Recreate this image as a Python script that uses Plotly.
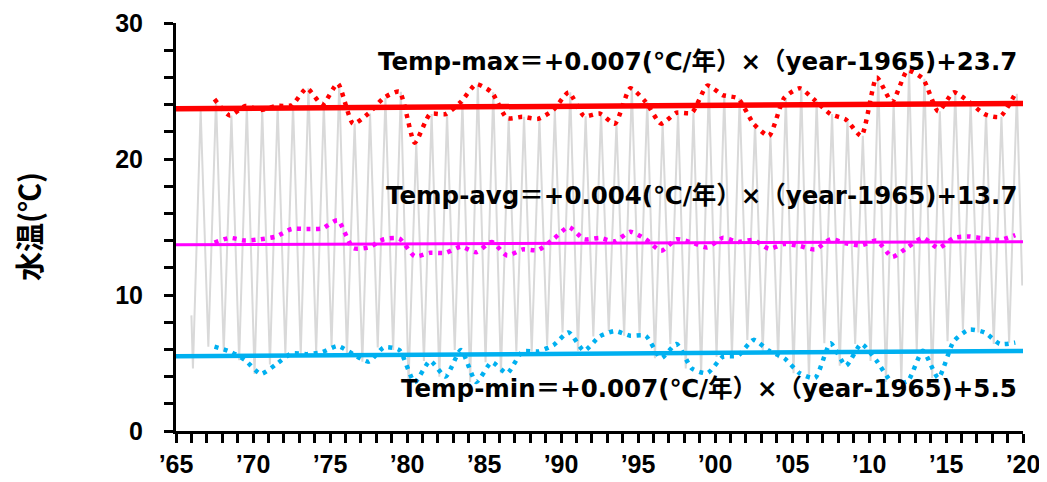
import plotly.graph_objects as go

# ---------------- data ----------------
years = list(range(1966, 2020))

# annual maximum water temperature (℃)
annual_max = [
    23.6,                                                   # 1966
    24.4, 23.2, 23.9, 23.6, 23.9, 23.95, 25.2, 24.0, 25.55, 22.6,   # 1967-1976
    23.35, 24.5, 24.95, 21.2, 23.3, 23.3, 24.2, 25.5, 24.9, 23.0,   # 1977-1986
    23.1, 22.95, 23.6, 24.9, 23.15, 23.35, 22.6, 25.2, 24.2, 22.6,  # 1987-1996
    23.4, 23.4, 25.4, 24.7, 24.45, 22.6, 21.7, 24.5, 25.2, 24.3,    # 1997-2006
    23.3, 22.9, 21.7, 26.0, 24.2, 26.5, 25.9, 23.5, 24.9, 24.2,     # 2007-2016
    23.3, 23.1, 24.8,                                              # 2017-2019
]
# annual mean water temperature (℃)
annual_avg = [
    None,
    13.85, 14.2, 14.0, 14.1, 14.3, 14.85, 14.85, 14.9, 15.5, 13.45,
    13.5, 14.1, 14.15, 12.85, 13.1, 13.1, 13.55, 13.15, 13.9, 12.9,
    13.35, 13.3, 14.1, 15.0, 14.1, 14.2, 13.95, 14.65, 14.1, 13.25,
    14.1, 13.85, 13.5, 14.2, 13.9, 14.05, 13.4, 13.75, 13.6, 13.35,
    14.1, 13.8, 13.65, 14.0, 12.8, 13.5, 14.2, 13.45, 14.2, 14.3,
    14.15, 14.05, 14.4,
]
# annual minimum water temperature (℃)
annual_min = [
    4.6,
    6.2, 5.85, 5.2, 4.2, 4.9, 5.7, 5.65, 5.8, 6.25, 5.65,
    5.1, 6.15, 5.95, 3.6, 5.15, 4.0, 5.95, 3.6, 5.05, 4.25,
    5.85, 5.85, 6.3, 7.25, 5.9, 6.95, 7.35, 7.0, 7.0, 5.35,
    6.4, 4.6, 4.25, 5.45, 5.55, 6.7, 5.9, 5.35, 4.25, 3.9,
    6.45, 4.8, 6.4, 5.15, 3.6, 3.65, 5.9, 3.9, 6.6, 7.45,
    7.25, 6.4, 6.5,
]
first_month_value = 8.5    # Jan 1966 (monthly series)
last_month_value = 10.7    # Dec 2019 (monthly series)
dotted_start_year = 1967

# regression lines: Temp = slope * (year - 1965) + intercept
base_year = 1965
trend_names = ["Temp-max", "Temp-avg", "Temp-min"]
trend_slopes = [0.007, 0.004, 0.007]
trend_intercepts = [23.7, 13.7, 5.5]

x_tick_vals = list(range(1965, 2021, 5))
x_tick_text = ["’65", "’70", "’75", "’80", "’85", "’90", "’95", "’00", "’05", "’10", "’15", "’20"]
y_tick_vals = [0, 10, 20, 30]

# ---------------- figure ----------------
MID = 0.5      # annual values plotted mid-year
WINTER = 0.1   # month of the annual minimum in the monthly line
SUMMER = 0.6   # month of the annual maximum in the monthly line

gx, gy = [years[0]], [first_month_value]
for yr, lo, hi in zip(years, annual_min, annual_max):
    gx += [yr + WINTER, yr + SUMMER]
    gy += [lo, hi]
gx.append(years[-1] + 0.95)
gy.append(last_month_value)

fig = go.Figure()
fig.add_trace(go.Scatter(x=gx, y=gy, mode="lines",
                         line=dict(color="#D9D9D9", width=2), hoverinfo="skip"))

colors = ["#FF0000", "#FF00FF", "#00B0F0"]
series = [annual_max, annual_avg, annual_min]
trend_widths = [5.5, 3, 4.5]

for vals, col in zip(series, colors):
    xs = [y + MID for y, v in zip(years, vals) if y >= dotted_start_year and v is not None]
    ys = [v for y, v in zip(years, vals) if y >= dotted_start_year and v is not None]
    fig.add_trace(go.Scatter(x=xs, y=ys, mode="lines",
                             line=dict(color=col, width=4.5, dash="4px,5.5px",
                                       shape="spline", smoothing=0.6)))

for s, b, col, w in zip(trend_slopes, trend_intercepts, colors, trend_widths):
    tx = [1965, 2020]
    ty = [s * (t - base_year) + b for t in tx]
    fig.add_trace(go.Scatter(x=tx, y=ty, mode="lines", line=dict(color=col, width=w)))

label_y = [27.15, 17.3, 3.16]
txt_font = dict(family="DejaVu Sans, Noto Sans CJK JP", size=24.5, color="black", weight="bold")
for name, s, b, ly in zip(trend_names, trend_slopes, trend_intercepts, label_y):
    fig.add_annotation(x=2019.75, y=ly, xref="x", yref="y", xanchor="right", yanchor="middle",
                       text=f"{name}＝+{s:.3f}(℃/年）×（year-{base_year})+{b}",
                       showarrow=False, font=txt_font)

fig.add_annotation(x=-0.1747, y=0.5, xref="paper", yref="paper", textangle=-90,
                   xanchor="center", yanchor="middle",
                   text="水温(℃)", showarrow=False,
                   font=dict(family="Noto Sans CJK JP", size=29, color="black", weight="bold"))

tick_font = dict(family="Liberation Sans", size=25, color="black", weight="bold")
fig.update_xaxes(range=[1965, 2020], tickmode="array", tickvals=x_tick_vals, ticktext=x_tick_text,
                 ticks="outside", ticklen=9, tickwidth=2.5, tickcolor="black",
                 minor=dict(tickmode="linear", tick0=1965, dtick=1, ticks="outside",
                            ticklen=9, tickwidth=2.5, tickcolor="black", showgrid=False),
                 showline=True, linewidth=3, linecolor="black", showgrid=False, zeroline=False,
                 tickfont=tick_font, automargin=False)
fig.update_yaxes(range=[0, 30], tickmode="array", tickvals=y_tick_vals,
                 ticks="outside", ticklen=9, tickwidth=2.5, tickcolor="black",
                 minor=dict(tickmode="linear", tick0=0, dtick=2, ticks="outside",
                            ticklen=9, tickwidth=2.5, tickcolor="black", showgrid=False),
                 showline=True, linewidth=3, linecolor="black", showgrid=False, zeroline=False,
                 tickfont=tick_font, ticklabelstandoff=16, automargin=False)

# the page adds an 8px body margin, so the figure is 8px smaller than the window
fig.update_layout(width=1039, height=474, margin=dict(l=168, r=24, t=15, b=51),
                  plot_bgcolor="white", paper_bgcolor="white", showlegend=False)

fig.write_html("out.html")
